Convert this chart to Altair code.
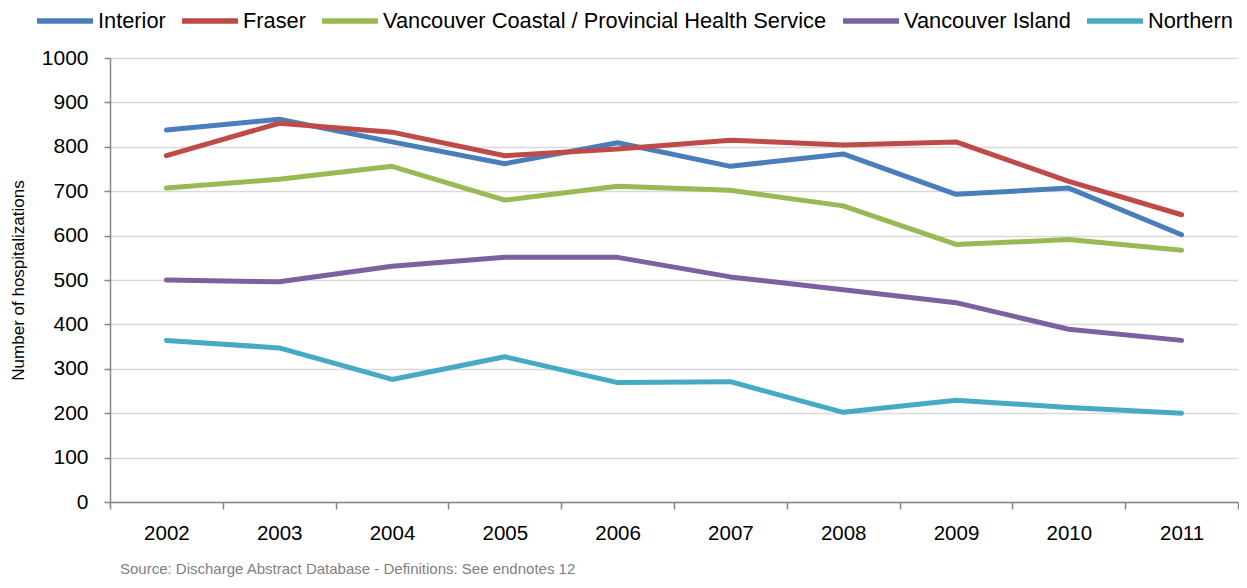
import altair as alt
import pandas as pd

years = ["2002", "2003", "2004", "2005", "2006", "2007", "2008", "2009", "2010", "2011"]
series = ["Interior", "Fraser", "Vancouver Coastal / Provincial Health Service",
          "Vancouver Island", "Northern"]
colors = ["#4a7ebb", "#be4b48", "#98b954", "#7d60a0", "#46aac5"]

interior = [838, 862, 811, 762, 809, 756, 784, 693, 707, 602]
fraser = [780, 853, 833, 780, 795, 815, 804, 811, 722, 647]
vch = [707, 727, 756, 680, 711, 702, 667, 580, 591, 567]
island = [500, 496, 531, 551, 551, 507, 478, 449, 389, 364]
northern = [364, 347, 276, 327, 269, 271, 202, 229, 213, 200]

rows = []
for name, vals in zip(series, [interior, fraser, vch, island, northern]):
    for y, v in zip(years, vals):
        rows.append({"Year": y, "Region": name, "Value": v})
df = pd.DataFrame(rows)

FONT = "Liberation Sans, Arial"

chart = alt.Chart(df).mark_line(strokeWidth=5, strokeCap="round", strokeJoin="round").encode(
    x=alt.X("Year:O", sort=years,
            scale=alt.Scale(type="band", paddingInner=0, paddingOuter=0),
            axis=alt.Axis(title=None, labelAngle=0, tickBand="extent", labelFontSize=20.5,
                          labelFont=FONT, labelColor="#000000", labelPadding=14,
                          tickSize=7, tickColor="#868686", domainColor="#868686",
                          domainWidth=1.5, tickWidth=1.5, grid=False)),
    y=alt.Y("Value:Q", scale=alt.Scale(domain=[0, 1000], nice=False),
            axis=alt.Axis(title="Number of hospitalizations", values=list(range(0, 1001, 100)),
                          format="d",
                          titleFontSize=17, titleFont=FONT, titleFontWeight="normal",
                          titleColor="#000000", titlePadding=14,
                          labelFontSize=21, labelFont=FONT, labelColor="#000000",
                          labelPadding=16, tickSize=6, tickColor="#868686",
                          domainColor="#868686", domainWidth=1.5, tickWidth=1.5,
                          gridColor="#d9d9d9", gridWidth=1.5)),
    color=alt.Color("Region:N", sort=series,
                    scale=alt.Scale(domain=series, range=colors),
                    legend=alt.Legend(title=None, orient="none", direction="horizontal",
                                      legendX=-76, legendY=-68,
                                      symbolType="stroke", symbolSize=3136,
                                      symbolStrokeWidth=5.5, labelFontSize=21.8,
                                      labelFont=FONT, labelColor="#000000",
                                      labelOffset=2, columnPadding=5,
                                      labelLimit=600)),
).properties(
    width=1128, height=444,
    autosize=alt.AutoSizeParams(type="none"),
    padding={"left": 102, "top": 50, "right": 1, "bottom": 78},
    title=alt.TitleParams(
        "Source: Discharge Abstract Database - Definitions: See endnotes 12",
        orient="bottom", anchor="start", frame="group", dx=10, offset=18, fontSize=15,
        font="Liberation Sans, Arial", fontWeight="normal", color="#7f7f7f"),
).configure_view(stroke=None)

chart.save("out.html", embed_options={"renderer": "svg", "actions": False})
